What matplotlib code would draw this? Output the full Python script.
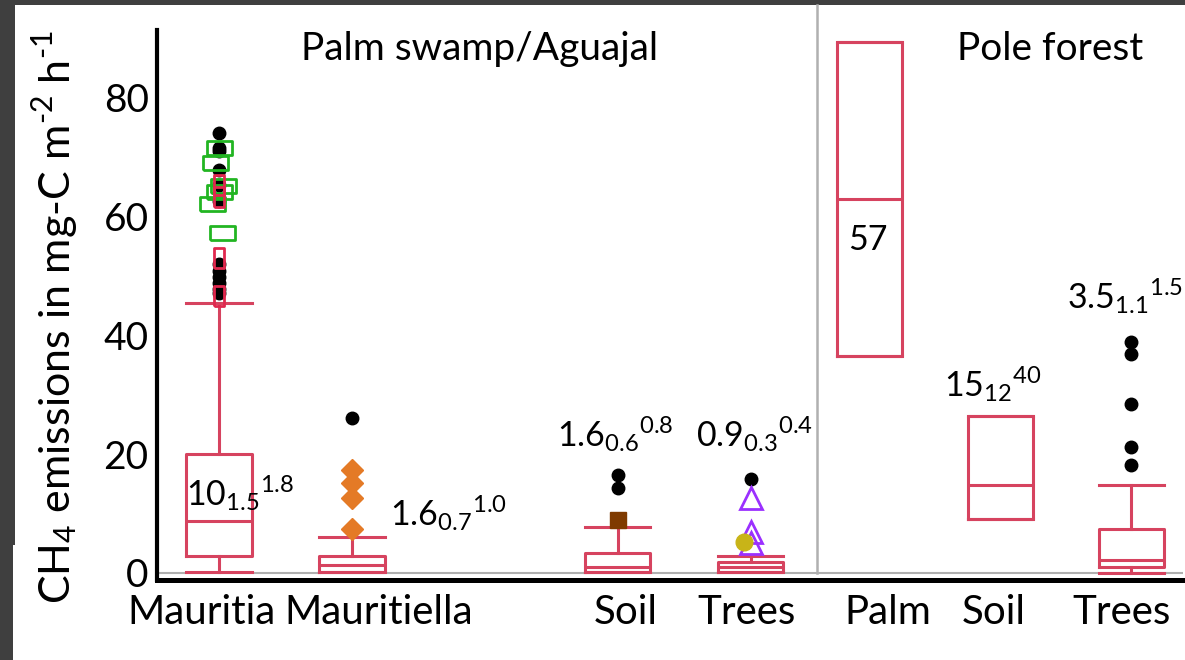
import matplotlib
matplotlib.use("Agg")
import matplotlib.pyplot as plt
from matplotlib.patches import Rectangle

plt.rcParams['font.family'] = ['Lato', 'DejaVu Sans']
plt.rcParams['mathtext.fontset'] = 'custom'
plt.rcParams['mathtext.rm'] = 'Lato'

# box statistics per group (mg-C m-2 h-1)
groups = ["Mauritia", "Mauritiella", "Soil", "Trees", "Palm", "Soil", "Trees"]
q1 = [2.9, 0.1, 0.2, 0.2, 36.5, 9.1, 1.0]
med = [8.7, 1.3, 1.0, 1.0, 62.9, 14.8, 2.2]
q3 = [20.0, 2.9, 3.4, 1.8, 89.2, 26.4, 7.4]
whislo = [0.2, 0.1, 0.2, 0.2, 36.5, 9.1, 0.0]
whishi = [45.4, 6.1, 7.7, 2.9, 89.2, 26.4, 14.8]
black_fliers = [
    [73.9, 71.5, 71.0, 67.8, 65.3, 62.6, 52.0, 50.8, 49.7, 48.7, 47.8, 47.1],
    [26.1],
    [16.5, 14.3],
    [15.8],
    [],
    [],
    [38.8, 36.8, 28.4, 21.2, 18.2],
]

# coloured individual measurements
mauritia_green = [71.4, 68.9, 65.0, 64.1, 62.0, 57.1]
mauritia_red = [65.2, 63.3, 52.9, 46.5]
mauritiella_orange = [17.3, 15.2, 12.6, 7.4]
soil_brown = [8.9]
trees_purple = [12.6, 6.9, 5.0]
trees_olive = [5.2]

# median annotations: value, lower, upper
ann_main = ["10", "1.6", "1.6", "0.9", "57", "15", "3.5"]
ann_low = ["1.5", "0.7", "0.6", "0.3", "", "12", "1.1"]
ann_high = ["1.8", "1.0", "0.8", "0.4", "", "40", "1.5"]

yticks = [0, 20, 40, 60, 80]

# layout
pos = [0, 1, 3, 4, 4.89, 5.88, 6.86]
label_pos = [-0.13, 1.2, 3.06, 3.97, 5.03, 5.83, 6.79]
ann_xy = [(-0.25, 11.4), (1.29, 7.9), (2.54, 21.3), (3.59, 21.3),
          (4.73, 54.3), (5.45, 29.6), (6.38, 44.5)]
green_dx = [0.0, -0.03, 0.03, 0.0, -0.05, 0.02]
box_w = 0.49
crimson = '#d6435f'

fig = plt.figure(figsize=(11.85, 6.6), dpi=100, facecolor='#3f3f3f')
fig.patches.append(Rectangle((15 / 1185, 0), 1, 655 / 660, transform=fig.transFigure,
                             facecolor='white', edgecolor='none', zorder=-10))
fig.patches.append(Rectangle((13 / 1185, 0), 0.01, 115 / 660, transform=fig.transFigure,
                             facecolor='white', edgecolor='none', zorder=-10))

ax = fig.add_axes([157 / 1185, 80.5 / 660, 1026 / 1185, 549.5 / 660])
ax.set_zorder(2)
ax.set_xlim(-0.466, 7.25)
ax.set_ylim(-1.1, 91.3)
ax.patch.set_alpha(0)

stats = []
for i in range(len(groups)):
    stats.append(dict(q1=q1[i], med=med[i], q3=q3[i], whislo=whislo[i],
                      whishi=whishi[i], fliers=black_fliers[i]))

line = dict(color=crimson, linewidth=2.2)
ax.bxp(stats, positions=pos, widths=box_w, capwidths=box_w,
       boxprops=line, whiskerprops=line, capprops=line, medianprops=line,
       flierprops=dict(marker='o', markerfacecolor='black', markeredgecolor='black',
                       markersize=9, linestyle='none'),
       manage_ticks=False, zorder=3)

wide_rect = [(-1, -0.55), (1, -0.55), (1, 0.55), (-1, 0.55), (-1, -0.55)]
tall_rect = [(-0.5, -1), (0.5, -1), (0.5, 1), (-0.5, 1), (-0.5, -1)]
ax.plot([pos[0] + d for d in green_dx], mauritia_green, linestyle='none',
        marker=wide_rect, markersize=18, markerfacecolor='none',
        markeredgecolor='#22b522', markeredgewidth=2, zorder=4)
ax.plot([pos[0]] * len(mauritia_red), mauritia_red, linestyle='none',
        marker=tall_rect, markersize=14, markerfacecolor='none',
        markeredgecolor='#e0284e', markeredgewidth=2, zorder=4)
ax.plot([pos[1]] * len(mauritiella_orange), mauritiella_orange, linestyle='none',
        marker='D', markersize=11, color='#e47a26', zorder=4)
ax.plot([pos[2]] * len(soil_brown), soil_brown, linestyle='none',
        marker='s', markersize=12, color='#7f3a00', zorder=4)
ax.plot([pos[3]] * len(trees_purple), trees_purple, linestyle='none',
        marker='^', markersize=16, markerfacecolor='none',
        markeredgecolor='#9b30ff', markeredgewidth=2, zorder=4)
ax.plot([pos[3] - 0.05] * len(trees_olive), trees_olive, linestyle='none',
        marker='o', markersize=12, color='#c8b418', zorder=5)

# zero line and divider between forest types
ax.axhline(0, color='#b0b0b0', linewidth=1.5, zorder=1)
ax.plot([4.5, 4.5], [0, 95.5], color='#b0b0b0', linewidth=1.8, clip_on=False, zorder=1)

for i in range(len(groups)):
    if ann_low[i]:
        s = r'$\mathregular{%s_{%s}{}^{%s}}$' % (ann_main[i], ann_low[i], ann_high[i])
    else:
        s = ann_main[i]
    ax.text(ann_xy[i][0], ann_xy[i][1], s, fontsize=24.5, ha='left', va='baseline', zorder=6)

ax.text(1.96, 86.2, "Palm swamp/Aguajal", fontsize=28, ha='center', va='baseline')
ax.text(6.25, 86.2, "Pole forest", fontsize=28, ha='center', va='baseline')

ax.set_xticks([])
ax.set_yticks(yticks)
ax.set_yticklabels([str(t) for t in yticks], fontsize=28)
ax.tick_params(axis='y', length=0, pad=6)
for i, name in enumerate(groups):
    ax.text(label_pos[i], -3.5, name, fontsize=29, ha='center', va='top')

for side in ['top', 'right']:
    ax.spines[side].set_visible(False)
ax.spines['left'].set_linewidth(3)
ax.spines['bottom'].set_linewidth(3.6)

fig.text(55 / 1185, 343 / 660,
         r'CH$_\mathregular{4}$ emissions in mg-C m$^\text{-2}$ h$^\text{-1}$',
         rotation=90, fontsize=31, ha='center', va='center')

fig.savefig("out.png", dpi=100, facecolor=fig.get_facecolor())
